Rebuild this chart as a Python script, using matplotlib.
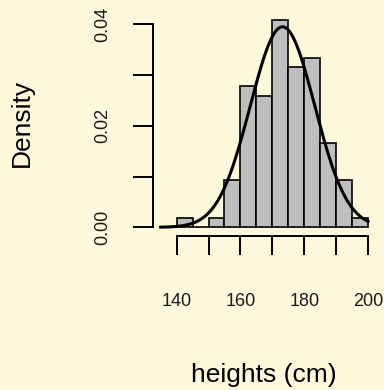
import numpy as np
import matplotlib.pyplot as plt

# histogram of heights, bins of 5 cm
bin_edges = [140, 145, 150, 155, 160, 165, 170, 175, 180, 185, 190, 195, 200]
counts = [1, 0, 1, 5, 15, 14, 22, 17, 18, 9, 5, 1]
# fitted normal curve
mu = 173.2
sd = 10.1
curve_from, curve_to = 135, 200

x_ticks = [140, 150, 160, 170, 180, 190, 200]
x_ticklabels = ['140', '', '160', '', '180', '', '200']
y_ticks = [0.0, 0.01, 0.02, 0.03, 0.04]
y_ticklabels = ['0.00', '', '0.02', '', '0.04']

plt.rcParams['font.family'] = ['Liberation Sans', 'DejaVu Sans']
bg = '#fff8dc'

edges = np.array(bin_edges, dtype=float)
widths = np.diff(edges)
dens = np.array(counts) / (np.sum(counts) * widths)

W, H = 384, 390
fig = plt.figure(figsize=(W / 100, H / 100), dpi=100, facecolor=bg)
# axes box in pixels: left 160.7, right 368, top 20.7, bottom 227.3
ax = fig.add_axes([160.7 / W, 1 - 227.3 / H, (368 - 160.7) / W, (227.3 - 20.7) / H])
ax.set_facecolor(bg)

ax.bar(edges[:-1], dens, width=widths, align='edge', color='#bebebe',
       edgecolor='black', linewidth=1.2, clip_on=False)

xs = np.linspace(curve_from, curve_to, 300)
ys = np.exp(-0.5 * ((xs - mu) / sd) ** 2) / (sd * np.sqrt(2 * np.pi))
ax.plot(xs, ys, color='black', linewidth=2.2, clip_on=False)

ax.set_xlim(135, 200)
ax.set_ylim(0, 0.0407)

for s in ['top', 'right']:
    ax.spines[s].set_visible(False)
ax.spines['left'].set_position(('outward', 5.5))
ax.spines['left'].set_bounds(0, 0.04)
ax.spines['bottom'].set_position(('outward', 6.3))
ax.spines['bottom'].set_bounds(140, 200)
for s in ['left', 'bottom']:
    ax.spines[s].set_linewidth(1.4)

ax.set_xticks(x_ticks)
ax.set_xticklabels(x_ticklabels)
ax.set_yticks(y_ticks)
ax.set_yticklabels(y_ticklabels, rotation=90, va='center')
ax.tick_params(axis='x', length=13.7, width=1.4, pad=27, labelsize=13, labelcolor='#1a1a1a')
ax.tick_params(axis='y', length=14.4, width=1.4, pad=16, labelsize=13, labelcolor='#1a1a1a')

fig.text(22 / W, 1 - 123 / H, 'Density', rotation=90, ha='center', va='center', fontsize=19)
fig.text(264 / W, 1 - 375 / H, 'heights (cm)', ha='center', va='center', fontsize=19)

fig.savefig('out.png', dpi=100, facecolor=bg)
